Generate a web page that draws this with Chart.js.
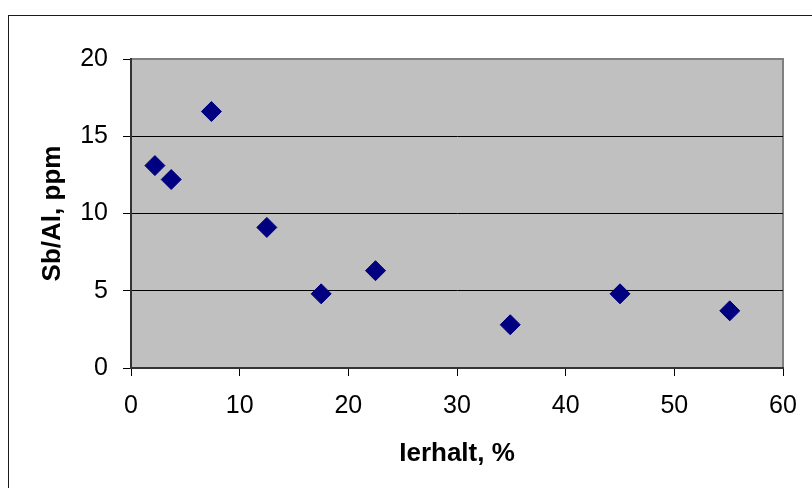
<!DOCTYPE html>
<html>
<head>
<meta charset="utf-8">
<script src="https://cdn.jsdelivr.net/npm/chart.js@4"></script>
<style>
  html, body { margin: 0; padding: 0; background: #ffffff; }
  #wrap { width: 812px; height: 488px; }
</style>
</head>
<body>
<div id="wrap"><canvas id="c" width="812" height="488"></canvas></div>
<script>
// Ore content (x, %) against Sb/Al ratio (y, ppm)
const erhalt = [2.2, 3.7, 7.4, 12.5, 17.5, 22.5, 34.9, 45.0, 55.1];
const sbAl   = [13.1, 12.2, 16.6, 9.1, 4.8, 6.3, 2.8, 4.8, 3.7];

const xTicks = [0, 10, 20, 30, 40, 50, 60];
const yTicks = [0, 5, 10, 15, 20];

const xTitle = 'Ierhalt, %';
const yTitle = 'Sb/Al, ppm';

const points = erhalt.map((x, i) => ({ x: x, y: sbAl[i] }));

// grey plot background, plot frame and the outer chart frame
const frame = {
  id: 'frame',
  beforeDraw(chart) {
    const { ctx, chartArea: a } = chart;
    ctx.save();
    ctx.fillStyle = '#ffffff';
    ctx.fillRect(0, 0, chart.width, chart.height);
    ctx.strokeStyle = '#1a1a1a';
    ctx.lineWidth = 1;
    ctx.strokeRect(8.5, 15.5, 1000, 1000);
    ctx.fillStyle = '#c0c0c0';
    ctx.fillRect(a.left, a.top, a.right - a.left, a.bottom - a.top);
    ctx.strokeStyle = '#808080';
    ctx.lineWidth = 2;
    ctx.beginPath();
    ctx.moveTo(a.left, a.top);
    ctx.lineTo(a.right, a.top);
    ctx.lineTo(a.right, a.bottom);
    ctx.stroke();
    ctx.restore();
  }
};

const tickFont = { family: '"Liberation Sans", Arial, sans-serif', size: 25 };
const titleFont = { family: '"Liberation Sans", Arial, sans-serif', size: 26, weight: 'bold' };

new Chart(document.getElementById('c'), {
  type: 'scatter',
  data: {
    datasets: [{
      data: points,
      pointStyle: 'rectRot',
      pointRadius: 10,
      pointHoverRadius: 10,
      borderWidth: 1,
      backgroundColor: '#000080',
      borderColor: '#000080',
      clip: false
    }]
  },
  options: {
    responsive: false,
    animation: false,
    devicePixelRatio: 1,
    layout: { padding: { left: 0, right: 29, top: 59, bottom: 0 } },
    plugins: { legend: { display: false }, tooltip: { enabled: false } },
    scales: {
      x: {
        type: 'linear',
        min: xTicks[0],
        max: xTicks[xTicks.length - 1],
        afterBuildTicks(s) { s.ticks = xTicks.map(v => ({ value: v })); },
        afterFit(s) { s.height = 120; },
        ticks: { color: '#000', font: tickFont, padding: 15, maxRotation: 0 },
        grid: { drawOnChartArea: false, drawTicks: true, tickLength: 8, tickColor: '#000', tickWidth: 1 },
        border: { display: true, color: '#333333', width: 2 },
        title: { display: true, text: xTitle, color: '#000', font: titleFont, padding: { top: 0, bottom: 19 } }
      },
      y: {
        type: 'linear',
        min: yTicks[0],
        max: yTicks[yTicks.length - 1],
        afterBuildTicks(s) { s.ticks = yTicks.map(v => ({ value: v })); },
        afterFit(s) { s.width = 131; },
        ticks: { color: '#000', font: tickFont, padding: 15 },
        grid: {
          drawOnChartArea: true,
          drawTicks: true,
          tickLength: 8,
          tickColor: '#000',
          tickWidth: 1,
          color: ctx => (ctx.tick && (ctx.tick.value === 0 || ctx.tick.value === 20)) ? 'rgba(0,0,0,0)' : '#000000',
          lineWidth: 1
        },
        border: { display: true, color: '#333333', width: 2 },
        title: { display: true, text: yTitle, color: '#000', font: titleFont, padding: { top: 37, bottom: 0 } }
      }
    }
  },
  plugins: [frame]
});
</script>
</body>
</html>
